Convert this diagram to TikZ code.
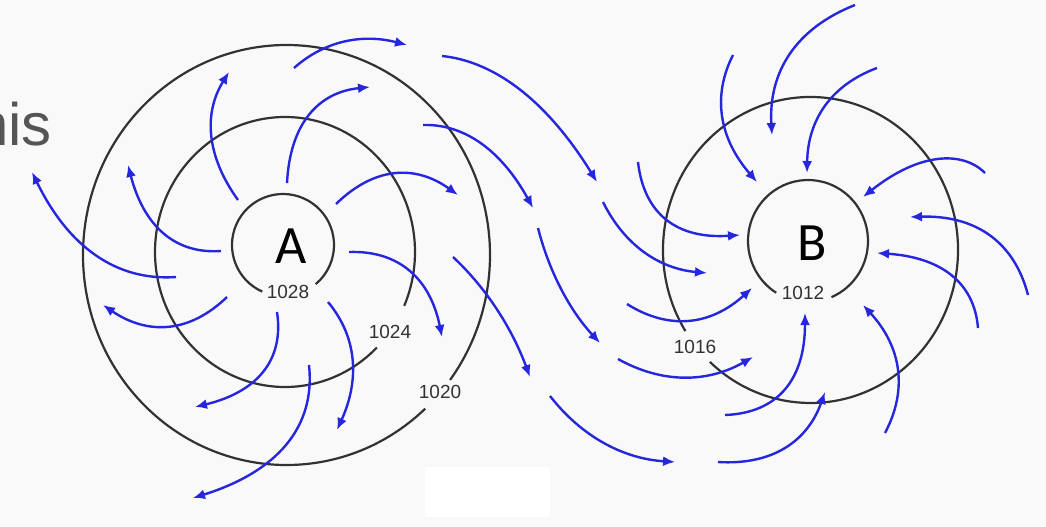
\documentclass[tikz,border=0pt]{standalone}
\usepackage{fontspec}
\setmainfont{Liberation Sans}
\newfontfamily\capfont{Carlito}
\usetikzlibrary{arrows.meta}
\definecolor{windblue}{RGB}{38,38,222}
\definecolor{isogray}{RGB}{50,50,50}
\definecolor{pagebg}{RGB}{249,249,249}
\definecolor{slidegray}{RGB}{85,85,85}
\tikzset{
  wind/.style={color=windblue, line width=2.4pt, -{Latex[length=12pt,width=10pt]}},
  isobar/.style={color=isogray, line width=2.2pt},
  pressure/.style={inner sep=0.75pt, text=isogray, font=\fontsize{19}{19}\selectfont},
  centre/.style={inner sep=0.75pt, font=\capfont\fontsize{54}{54}\selectfont}
}
\begin{document}
\begin{tikzpicture}[x=1pt,y=1pt,yscale=-1,xscale=1]
\useasboundingbox (0,0) rectangle (1046,527);
\fill [pagebg] (0,0) rectangle (1046,527);
\fill [white] (425,467) rectangle (550,517);

% Text Node
\node (slide) [anchor=base east, inner sep=0pt, text=slidegray, font=\fontsize{60}{60}\selectfont] at (52,145) {his};

%Isobars around A
\draw [isobar] ([shift={(114:51 and 51)}]283,245) arc [start angle=114, end angle=410, x radius=51, y radius=51];
\draw [isobar] ([shift={(45:130 and 135)}]285,252) arc [start angle=45, end angle=383.5, x radius=130, y radius=135];
\draw [isobar] ([shift={(47:203.5 and 210)}]286.5,255) arc [start angle=47, end angle=396.5, x radius=203.5, y radius=210];
%Isobars around B
\draw [isobar] ([shift={(122:60 and 61)}]808,241) arc [start angle=122, end angle=427, x radius=60, y radius=61];
\draw [isobar] ([shift={(148:147.5 and 153)}]810.5,250) arc [start angle=148, end angle=493, x radius=147.5, y radius=153];

% Text Node
\node (high) [centre] at (291,246) {A};
\node (low) [centre] at (812,243) {B};
\node (p1028) [pressure] at (288,292) {1028};
\node (p1024) [pressure] at (390,332) {1024};
\node (p1020) [pressure] at (440,392) {1020};
\node (p1012) [pressure] at (803,293) {1012};
\node (p1016) [pressure] at (695,347) {1016};

%Curve Lines out of A
\draw [wind] (294,68) .. controls (324.3,41) and (362,33.3) .. (407,45);
\draw [wind] (238,200) .. controls (206.3,156) and (203.3,113.3) .. (229,72);
\draw [wind] (287,183) .. controls (290,124.3) and (317.7,92.3) .. (370,87);
\draw [wind] (336,204) .. controls (374,167) and (414.7,164) .. (458,195);
\draw [wind] (349,252) .. controls (399.3,250.3) and (430.3,279) .. (442,337);
\draw [wind] (328,302) .. controls (357,336.7) and (360,379.3) .. (337,430);
\draw [wind] (309,365) .. controls (315.7,427.3) and (277,471.7) .. (193,498);
\draw [wind] (277,312) .. controls (284.3,360.3) and (257,392) .. (195,407);
\draw [wind] (227,297) .. controls (189.7,333) and (148.3,335.7) .. (103,305);
\draw [wind] (176,277) .. controls (116,281.3) and (68,246.3) .. (32,172);
\draw [wind] (221,251) .. controls (174.7,254.3) and (143.7,225.7) .. (128,165);

%Curve Lines between A and B
\draw [wind] (442,56) .. controls (497,61.7) and (548.7,103.7) .. (597,182);
\draw [wind] (423,125) .. controls (465,123.7) and (501.7,151.3) .. (533,208);
\draw [wind] (453,257) .. controls (486,287.7) and (511.7,327.7) .. (530,377);
\draw [wind] (538,228) .. controls (549.3,272.3) and (570,310.7) .. (600,343);
\draw [wind] (550,396) .. controls (581.7,436.7) and (623.3,458.7) .. (675,462);
\draw [wind] (603,202) .. controls (624.3,245) and (659,268.7) .. (707,273);
\draw [wind] (618,359) .. controls (662.3,383.7) and (707.3,383) .. (753,357);
\draw [wind] (627,304) .. controls (669.3,330.7) and (711,325.3) .. (752,288);
\draw [wind] (638,162) .. controls (644,215) and (678,239.3) .. (740,235);

%Curve Lines into B
\draw [wind] (733,55) .. controls (711.7,96.7) and (719.7,139) .. (757,182);
\draw [wind] (855,5) .. controls (796,28.3) and (768.3,71.7) .. (772,135);
\draw [wind] (877,68) .. controls (831,85) and (807.7,120) .. (807,173);
\draw [wind] (985,173) .. controls (962,150) and (918.3,153) .. (863,197);
\draw [wind] (1028,295) .. controls (1014,241) and (974.7,215) .. (910,217);
\draw [wind] (978,328) .. controls (974.3,282.3) and (940.7,257.3) .. (877,253);
\draw [wind] (885,433) .. controls (908.3,389) and (901,346.3) .. (863,305);
\draw [wind] (725,415) .. controls (778.3,413) and (805,379) .. (805,313);
\draw [wind] (718,462) .. controls (771.7,465.3) and (807.3,442) .. (825,392);

\end{tikzpicture}
\end{document}
